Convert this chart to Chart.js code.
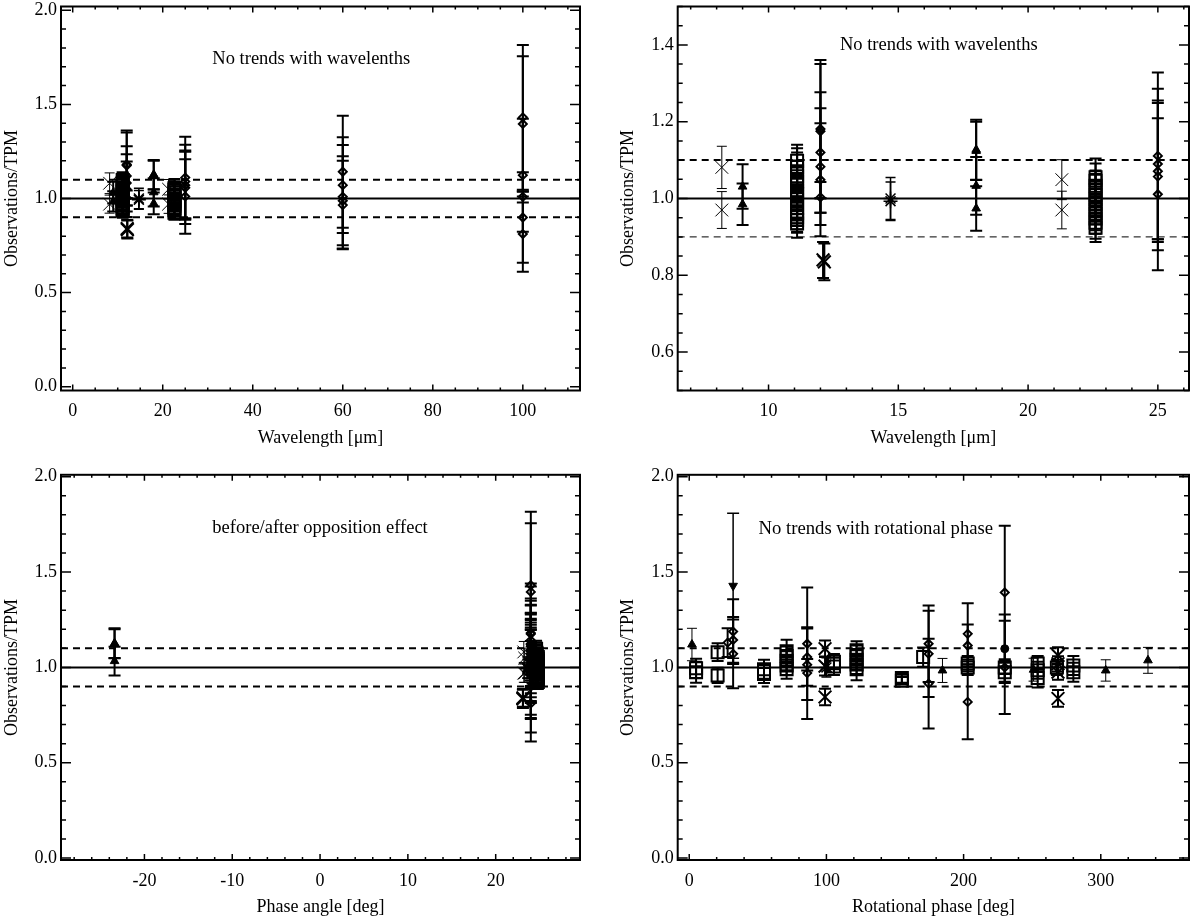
<!DOCTYPE html>
<html>
<head>
<meta charset="utf-8">
<title>Observations/TPM</title>
<script src="https://cdn.jsdelivr.net/npm/chart.js@4.4.1/dist/chart.umd.min.js"></script>
<style>
  html, body { margin:0; padding:0; background:#fff; }
  body { width:1200px; height:921px; position:relative; overflow:hidden; }
  .panel { position:absolute; width:600px; }
  .panel canvas { display:block; }
</style>
</head>
<body>
<div class="panel" style="left:0;top:-20px;height:480px"><canvas id="p1"></canvas></div>
<div class="panel" style="left:600px;top:-20px;height:480px"><canvas id="p2"></canvas></div>
<div class="panel" style="left:0;top:460px;height:461px"><canvas id="p3"></canvas></div>
<div class="panel" style="left:600px;top:460px;height:461px"><canvas id="p4"></canvas></div>
<script>
// ================= DATA =================
// --- observations vs wavelength [µm] (panels 1 & 2) ---
const xThinWl    = [8.2, 8.2, 21.3, 21.3];
const xThinRatio = [1.081, 0.970, 1.049, 0.970];
const xThinErr   = [0.055, 0.048, 0.052, 0.049];

const xThickWl    = [12.1, 12.15];
const xThickRatio = [0.840, 0.835];
const xThickErr   = [0.047, 0.048];

const starWl    = [14.7, 14.7];
const starRatio = [1.000, 0.993];
const starErr   = [0.055, 0.050];

const triWl    = [9.0, 9.0, 18.0, 18.0, 18.0, 18.0];
const triRatio = [1.031, 0.985, 1.127, 1.124, 1.033, 0.974];
const triErr   = [0.058, 0.054, 0.078, 0.076, 0.075, 0.058];

const sqWl    = [11.1, 11.1, 11.1, 11.1, 11.1, 11.1, 11.1, 11.1, 11.1, 11.1, 11.1, 11.1, 11.1, 11.1, 11.1,
                 22.6, 22.6, 22.6, 22.6, 22.6, 22.6, 22.6, 22.6, 22.6, 22.6, 22.6, 22.6];
const sqRatio = [1.098, 1.082, 1.071, 1.058, 1.044, 1.036, 1.021, 1.012, 0.998, 0.987, 0.975, 0.962, 0.951, 0.944, 0.935,
                 1.055, 1.046, 1.033, 1.021, 1.009, 0.998, 0.985, 0.972, 0.961, 0.948, 0.937, 0.924];
const sqErr   = [0.042, 0.049, 0.049, 0.041, 0.038, 0.045, 0.040, 0.043, 0.039, 0.044, 0.040, 0.042, 0.038, 0.033, 0.037,
                 0.049, 0.045, 0.040, 0.043, 0.038, 0.046, 0.041, 0.039, 0.044, 0.040, 0.042, 0.037];

const diaWl    = [12, 12, 12, 12, 12, 12, 25, 25, 25, 25, 25, 60, 60, 60, 60, 60, 100, 100, 100, 100, 100, 100];
const diaRatio = [1.181, 1.175, 1.120, 1.083, 1.049, 1.003,
                  1.111, 1.090, 1.071, 1.057, 1.011,
                  1.142, 1.071, 1.009, 0.988, 0.965,
                  1.431, 1.396, 1.124, 1.009, 0.899, 0.811];
const diaErr   = [0.180, 0.175, 0.157, 0.152, 0.147, 0.040,
                  0.217, 0.196, 0.184, 0.192, 0.198,
                  0.298, 0.254, 0.275, 0.236, 0.235,
                  0.385, 0.360, 0.300, 0.030, 0.240, 0.200];

// --- same observations vs phase angle [deg] (panel 3) ---
const xThinPh  = [23.2, 23.2, 23.3, 23.3];
const xThickPh = [23.1, 23.1];
const starPh   = [23.6, 23.6];
const triPh    = [24.1, 24.1, -23.4, -23.4, -23.4, 24.2];
const sqPh     = [24.6, 24.6, 24.6, 24.6, 24.6, 24.6, 24.6, 24.6, 24.6, 24.6, 24.6, 24.6, 24.6, 24.6, 24.6,
                  24.8, 24.8, 24.8, 24.8, 24.8, 24.8, 24.8, 24.8, 24.8, 24.8, 24.8, 24.8];
const diaPh    = [24.0, 24.0, 24.0, 24.0, 24.0, 24.0, 24.0, 24.0, 24.0, 24.0, 24.0,
                  24.0, 24.0, 24.0, 24.0, 24.0, 24.0, 24.0, 24.0, 24.0, 24.0, 24.0];

// --- observations vs rotational phase [deg] (panel 4) ---
const rotTriDeg   = [2, 184.6, 251, 303.6, 334.4];
const rotTriRatio = [1.120, 0.984, 0.988, 0.984, 1.037];
const rotTriErr   = [0.085, 0.063, 0.060, 0.056, 0.068];

const rotSqDeg   = [5, 5, 20.7, 20.7, 54.5, 54.5, 71, 71, 71, 71, 71, 105.5, 105.5, 122, 122, 122, 122, 122,
                    155, 155, 170.5, 203, 203, 230, 230, 254, 254, 254, 268, 280, 280];
const rotSqRatio = [0.995, 0.975, 1.080, 0.958, 0.990, 0.965, 1.085, 1.060, 1.035, 1.010, 0.990, 1.030, 1.005,
                    1.090, 1.065, 1.040, 1.015, 0.990, 0.945, 0.930, 1.054, 1.020, 1.000, 1.000, 0.975,
                    1.020, 0.985, 0.945, 1.000, 1.010, 0.975];
const rotSqErr   = [0.050, 0.055, 0.047, 0.040, 0.050, 0.047, 0.060, 0.050, 0.050, 0.050, 0.050, 0.040, 0.045,
                    0.047, 0.050, 0.050, 0.050, 0.058, 0.025, 0.020, 0.050, 0.040, 0.040, 0.035, 0.050,
                    0.040, 0.045, 0.050, 0.040, 0.050, 0.050];

const rotDiaDeg   = [28, 32, 32, 32, 86, 86, 86, 86, 174.5, 174.5, 174.5, 203, 203, 203, 230, 230];
const rotDiaRatio = [1.130, 1.188, 1.144, 1.071, 1.124, 1.054, 1.014, 0.970, 1.124, 1.071, 0.915,
                     1.176, 1.115, 0.819, 1.393, 1.000];
const rotDiaErr   = [0.075, 0.170, 0.120, 0.180, 0.295, 0.150, 0.030, 0.240, 0.200, 0.226, 0.235,
                     0.160, 0.110, 0.196, 0.350, 0.245];

const rotTriDownDeg = [32];
const rotTriDownRatio = [1.428];
const rotTriDownErr = [0.380];

const rotDotDeg = [230];
const rotDotRatio = [1.098];
const rotDotErr = [0.180];

const rotCrossDeg   = [99, 99, 99, 268.8, 268.8, 268.8, 268.8];
const rotCrossRatio = [1.098, 1.007, 0.845, 1.063, 1.019, 0.975, 0.837];
const rotCrossErr   = [0.043, 0.050, 0.043, 0.043, 0.040, 0.040, 0.044];

const rotStarDeg = [100];
const rotStarRatio = [1.000];
const rotStarErr = [0.050];

// tick labels
const wlTicks1  = [0, 20, 40, 60, 80, 100];
const wlTicks2  = [10, 15, 20, 25];
const phTicks   = [-20, -10, 0, 10, 20];
const rotTicks  = [0, 100, 200, 300];
const ratioTicks = [0.0, 0.5, 1.0, 1.5, 2.0];
const ratioTicksZoom = [0.6, 0.8, 1.0, 1.2, 1.4];
const refLevels = [1.0, 1.1, 0.9];

// ================= RENDERING =================
const FONT = '"Liberation Serif","Times New Roman",Times,serif';
Chart.defaults.font.family = FONT;
Chart.defaults.font.size = 18;
Chart.defaults.color = '#000';

const STYLES = {
  crossThin:  {pointStyle: 'crossRot', pointRadius: 9,   pointBorderWidth: 1,   fill: false, errWidth: 1,   capHalf: 5},
  crossThick: {pointStyle: 'crossRot', pointRadius: 9,   pointBorderWidth: 2,   fill: false, errWidth: 2,   capHalf: 6},
  star:       {pointStyle: 'star',     pointRadius: 7,   pointBorderWidth: 1.5, fill: false, errWidth: 1.5, capHalf: 5},
  tri:        {pointStyle: 'triangle', pointRadius: 5,   pointBorderWidth: 1,   fill: true,  errWidth: 2,   capHalf: 6},
  triThin:    {pointStyle: 'triangle', pointRadius: 5,   pointBorderWidth: 1,   fill: true,  errWidth: 1,   capHalf: 5},
  triDown:    {pointStyle: 'triangle', pointRadius: 5,   pointBorderWidth: 1,   fill: true,  errWidth: 1.5, capHalf: 6, pointRotation: 180},
  square:     {pointStyle: 'rect',     pointRadius: 8.5, pointBorderWidth: 2,   fill: false, errWidth: 2,   capHalf: 6},
  diamond:    {pointStyle: 'rectRot',  pointRadius: 4,   pointBorderWidth: 2,   fill: false, errWidth: 2,   capHalf: 6},
  dot:        {pointStyle: 'circle',   pointRadius: 4,   pointBorderWidth: 1,   fill: true,  errWidth: 2,   capHalf: 6}
};

function series(xs, ys, errs, styleName) {
  const s = STYLES[styleName];
  return {
    type: 'scatter',
    data: xs.map((x, i) => ({x: x, y: ys[i]})),
    errs: errs,
    errWidth: s.errWidth,
    capHalf: s.capHalf,
    pointStyle: s.pointStyle,
    pointRadius: s.pointRadius,
    pointHoverRadius: s.pointRadius,
    pointBorderWidth: s.pointBorderWidth,
    pointRotation: s.pointRotation || 0,
    pointBorderColor: '#000',
    pointBackgroundColor: s.fill ? '#000' : 'rgba(0,0,0,0)',
    borderColor: '#000',
    backgroundColor: s.fill ? '#000' : 'rgba(0,0,0,0)',
    showLine: false,
    order: 1
  };
}

function refLine(xMin, xMax, level, width) {
  return {
    type: 'line',
    data: [{x: xMin, y: level}, {x: xMax, y: level}],
    borderColor: '#000',
    borderWidth: width,
    borderDash: level === 1.0 ? [] : [7, 5],
    pointRadius: 0,
    fill: false,
    order: 5
  };
}

function tickRange(min, max, step) {
  const out = [];
  const start = Math.ceil(min / step - 1e-9);
  const end = Math.floor(max / step + 1e-9);
  for (let k = start; k <= end; k++) out.push(+(k * step).toFixed(6));
  return out;
}

const framePlugin = {
  id: 'frame',
  beforeDatasetsDraw(chart) {
    const {ctx, chartArea: a, scales: {x, y}} = chart;
    ctx.save();
    ctx.beginPath();
    ctx.rect(a.left, a.top, a.right - a.left, a.bottom - a.top);
    ctx.clip();
    ctx.strokeStyle = '#000';
    chart.data.datasets.forEach(ds => {
      if (!ds.errs) return;
      ctx.lineWidth = ds.errWidth;
      ds.data.forEach((p, i) => {
        const e = ds.errs[i];
        const px = x.getPixelForValue(p.x);
        const yTop = y.getPixelForValue(p.y + e);
        const yBot = y.getPixelForValue(p.y - e);
        const c = ds.capHalf;
        ctx.beginPath();
        ctx.moveTo(px, yTop); ctx.lineTo(px, yBot);
        ctx.moveTo(px - c, yTop); ctx.lineTo(px + c, yTop);
        ctx.moveTo(px - c, yBot); ctx.lineTo(px + c, yBot);
        ctx.stroke();
      });
    });
    ctx.restore();
  },
  afterDraw(chart, args, o) {
    const {ctx, chartArea: a, scales: {x, y}} = chart;
    const isMajor = (list, v) => list.some(m => Math.abs(m - v) < 1e-6);
    ctx.save();
    ctx.strokeStyle = '#000';
    ctx.lineWidth = 1.5;
    ctx.beginPath();
    tickRange(x.min, x.max, o.xMinor).forEach(v => {
      const px = x.getPixelForValue(v);
      const L = isMajor(o.xMajor, v) ? 6 : 3;
      ctx.moveTo(px, a.bottom); ctx.lineTo(px, a.bottom - L);
      ctx.moveTo(px, a.top); ctx.lineTo(px, a.top + L);
    });
    tickRange(y.min, y.max, o.yMinor).forEach(v => {
      const py = y.getPixelForValue(v);
      const L = isMajor(o.yMajor, v) ? 10 : 5;
      ctx.moveTo(a.left, py); ctx.lineTo(a.left + L, py);
      ctx.moveTo(a.right, py); ctx.lineTo(a.right - L, py);
    });
    ctx.stroke();
    ctx.lineWidth = 2;
    ctx.strokeRect(a.left, a.top, a.right - a.left, a.bottom - a.top);
    ctx.fillStyle = '#000';
    ctx.font = o.noteSize + 'px ' + FONT;
    ctx.textAlign = 'center';
    ctx.textBaseline = 'middle';
    ctx.fillText(o.note, x.getPixelForValue(o.noteX), y.getPixelForValue(o.noteY));
    ctx.restore();
  }
};
Chart.register(framePlugin);

function makeChart(id, cfg) {
  const L = cfg.layout;
  const datasets = [];
  refLevels.forEach((lv, i) => datasets.push(refLine(cfg.xMin, cfg.xMax, lv, cfg.refWidths[i])));
  cfg.series.forEach(s => datasets.push(s));
  return new Chart(document.getElementById(id), {
    type: 'scatter',
    data: {datasets: datasets},
    options: {
      responsive: true,
      maintainAspectRatio: false,
      animation: false,
      events: [],
      layout: {padding: {left: 0, top: L.padTop, right: L.padRight, bottom: 0}},
      plugins: {
        legend: {display: false},
        tooltip: {enabled: false},
        frame: {xMajor: cfg.xTicks, xMinor: cfg.xMinor, yMajor: cfg.yTicks, yMinor: cfg.yMinor,
                note: cfg.note, noteX: cfg.noteX, noteY: cfg.noteY, noteSize: cfg.noteSize}
      },
      scales: {
        x: {
          type: 'linear', position: 'bottom', min: cfg.xMin, max: cfg.xMax,
          afterBuildTicks: s => { s.ticks = cfg.xTicks.map(v => ({value: v})); },
          afterFit: s => { s.height = L.axisH; },
          grid: {display: false, drawTicks: false},
          border: {display: false},
          ticks: {color: '#000', font: {family: FONT, size: 18}, padding: L.xTickPad,
                  maxRotation: 0, autoSkip: false, callback: v => String(v)},
          title: {display: true, text: cfg.xTitle, color: '#000', font: {family: FONT, size: 18},
                  padding: {top: 0, bottom: L.xTitlePad}}
        },
        y: {
          type: 'linear', position: 'left', min: cfg.yMin, max: cfg.yMax,
          afterBuildTicks: s => { s.ticks = cfg.yTicks.map(v => ({value: v})); },
          afterFit: s => { s.width = L.axisW; },
          grid: {display: false, drawTicks: false},
          border: {display: false},
          ticks: {color: '#000', font: {family: FONT, size: 18}, padding: 4,
                  autoSkip: false, callback: v => Number(v).toFixed(1)},
          title: {display: true, text: 'Observations/TPM', color: '#000', font: {family: FONT, size: 18},
                  padding: {top: L.yTitlePad, bottom: 0}}
        }
      }
    }
  });
}

const layTopL = {axisW: 61,   padRight: 20,   padTop: 26.5, axisH: 69.5, xTickPad: 10.2, xTitlePad: 11.2, yTitlePad: 1.2};
const layTopR = {axisW: 77.7, padRight: 10.6, padTop: 26.5, axisH: 69.5, xTickPad: 10.2, xTitlePad: 11.2, yTitlePad: 17.2};
const layBotL = {axisW: 61,   padRight: 20,   padTop: 14,   axisH: 61,   xTickPad: 10.2, xTitlePad: 2.7,  yTitlePad: 1.2};
const layBotR = {axisW: 77.7, padRight: 10.6, padTop: 14,   axisH: 61,   xTickPad: 10.2, xTitlePad: 2.7,  yTitlePad: 17.2};

function wlSeries() {
  return [
    series(sqWl, sqRatio, sqErr, 'square'),
    series(diaWl, diaRatio, diaErr, 'diamond'),
    series(triWl, triRatio, triErr, 'tri'),
    series(xThinWl, xThinRatio, xThinErr, 'crossThin'),
    series(xThickWl, xThickRatio, xThickErr, 'crossThick'),
    series(starWl, starRatio, starErr, 'star')
  ];
}

makeChart('p1', {
  layout: layTopL, xMin: -2.6, xMax: 112.7, xTicks: wlTicks1, xMinor: 5,
  yMin: -0.02, yMax: 2.02, yTicks: ratioTicks, yMinor: 0.1,
  xTitle: 'Wavelength [μm]', note: 'No trends with wavelenths', noteX: 53, noteY: 1.74, noteSize: 18.5,
  refWidths: [2, 2, 2], series: wlSeries()
});

makeChart('p2', {
  layout: layTopR, xMin: 6.5, xMax: 26.2, xTicks: wlTicks2, xMinor: 1,
  yMin: 0.5, yMax: 1.5, yTicks: ratioTicksZoom, yMinor: 0.05,
  xTitle: 'Wavelength [μm]', note: 'No trends with wavelenths', noteX: 16.56, noteY: 1.40, noteSize: 18.5,
  refWidths: [2, 2, 1], series: wlSeries()
});

makeChart('p3', {
  layout: layBotL, xMin: -29.5, xMax: 29.6, xTicks: phTicks, xMinor: 2,
  yMin: -0.01, yMax: 2.01, yTicks: ratioTicks, yMinor: 0.1,
  xTitle: 'Phase angle [deg]', note: 'before/after opposition effect', noteX: 0, noteY: 1.73, noteSize: 18.5,
  refWidths: [2, 2, 2],
  series: [
    series(sqPh, sqRatio, sqErr, 'square'),
    series(diaPh, diaRatio, diaErr, 'diamond'),
    series(triPh, triRatio, triErr, 'tri'),
    series(xThinPh, xThinRatio, xThinErr, 'crossThin'),
    series(xThickPh, xThickRatio, xThickErr, 'crossThick'),
    series(starPh, starRatio, starErr, 'star')
  ]
});

makeChart('p4', {
  layout: layBotR, xMin: -8.4, xMax: 364.3, xTicks: rotTicks, xMinor: 20,
  yMin: -0.01, yMax: 2.01, yTicks: ratioTicks, yMinor: 0.1,
  xTitle: 'Rotational phase [deg]', note: 'No trends with rotational phase', noteX: 136, noteY: 1.727, noteSize: 18.7,
  refWidths: [2, 2, 2],
  series: [
    series(rotSqDeg, rotSqRatio, rotSqErr, 'square'),
    series(rotDiaDeg, rotDiaRatio, rotDiaErr, 'diamond'),
    series(rotTriDeg, rotTriRatio, rotTriErr, 'triThin'),
    series(rotTriDownDeg, rotTriDownRatio, rotTriDownErr, 'triDown'),
    series(rotDotDeg, rotDotRatio, rotDotErr, 'dot'),
    series(rotCrossDeg, rotCrossRatio, rotCrossErr, 'crossThick'),
    series(rotStarDeg, rotStarRatio, rotStarErr, 'star')
  ]
});
</script>
</body>
</html>
